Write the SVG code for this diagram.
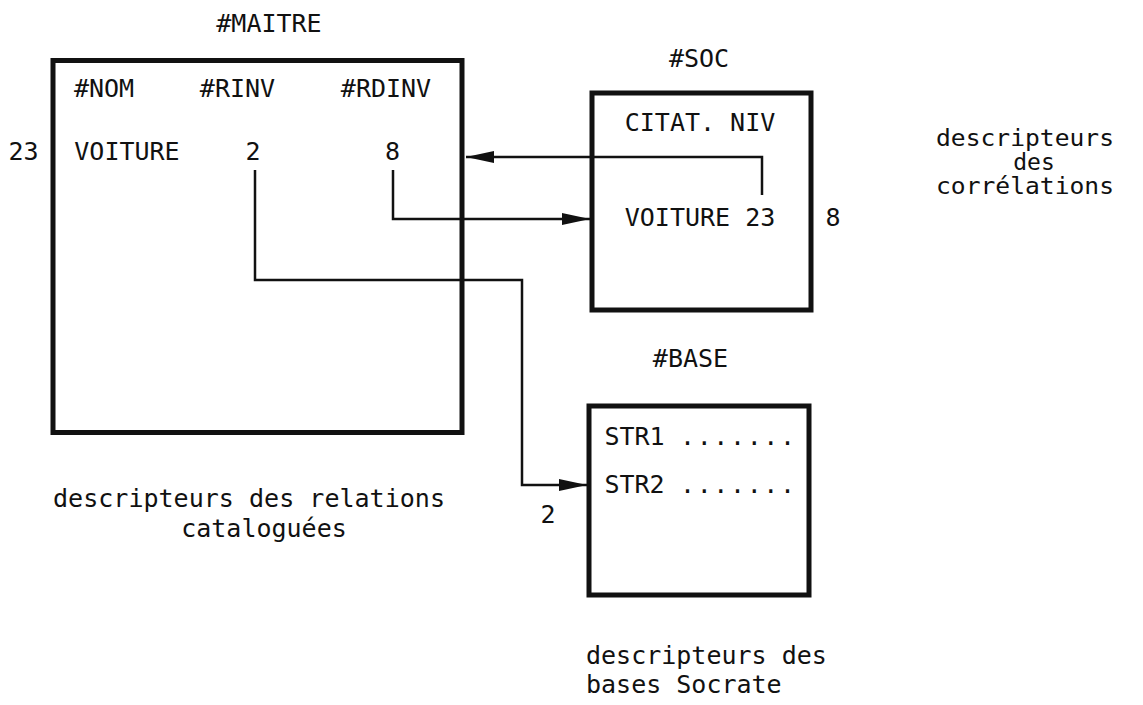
<svg xmlns="http://www.w3.org/2000/svg" width="1143" height="705" viewBox="0 0 1143 705">
<style>
text{font-family:"DejaVu Sans Mono","Liberation Mono",monospace;font-size:25px;fill:#111}
.m{text-anchor:middle}
.s{font-size:23px}
.box{fill:none;stroke:#111;stroke-width:5}
.ln{fill:none;stroke:#111;stroke-width:2.5}
</style>
<defs>
<marker id="ah" markerUnits="userSpaceOnUse" markerWidth="30" markerHeight="14" refX="28" refY="6" orient="auto">
<path d="M0,0 L28,6 L0,12 Z" fill="#111"/>
</marker>
</defs>
<rect width="1143" height="705" fill="#fff"/>
<g id="maitre">
<text class="m" x="269" y="32">#MAITRE</text>
<rect class="box" x="53" y="60.5" width="409" height="372"/>
<text class="m" x="104" y="97">#NOM</text>
<text class="m" x="237.5" y="97">#RINV</text>
<text class="m" x="386" y="97">#RDINV</text>
<text class="m" x="23.5" y="160">23</text>
<text class="m" x="127" y="160">VOITURE</text>
<text class="m" x="253" y="160">2</text>
<text class="m" x="392.5" y="160">8</text>
<text x="53" y="507" textLength="392" lengthAdjust="spacingAndGlyphs">descripteurs des relations</text>
<text class="m" x="264" y="537">cataloguées</text>
</g>
<g id="soc">
<text class="m" x="699" y="67">#SOC</text>
<rect class="box" x="592" y="93" width="219" height="217"/>
<text class="m" x="700" y="131">CITAT. NIV</text>
<text class="m" x="700" y="226">VOITURE 23</text>
<text class="m" x="833" y="226">8</text>
<text class="s" x="936" y="146" textLength="178" lengthAdjust="spacingAndGlyphs">descripteurs</text>
<text class="s m" x="1034" y="170">des</text>
<text class="s" x="936" y="194" textLength="178" lengthAdjust="spacingAndGlyphs">corrélations</text>
</g>
<g id="base">
<text class="m" x="690.5" y="367">#BASE</text>
<rect class="box" x="589" y="406" width="220" height="189"/>
<text class="m" x="634.5" y="445">STR1</text>
<text x="680" y="445" textLength="115" lengthAdjust="spacing">.......</text>
<text class="m" x="634.5" y="493">STR2</text>
<text x="680" y="493" textLength="115" lengthAdjust="spacing">.......</text>
<text class="m" x="548" y="523">2</text>
<text x="586" y="664">descripteurs des</text>
<text x="586" y="693">bases Socrate</text>
</g>
<g id="connectors">
<polyline class="ln" points="762,195 762,157 466,157" marker-end="url(#ah)"/>
<polyline class="ln" points="393,170 393,219 590,219" marker-end="url(#ah)"/>
<polyline class="ln" points="255,170 255,280 522,280 522,485 587,485" marker-end="url(#ah)"/>
</g>
</svg>
